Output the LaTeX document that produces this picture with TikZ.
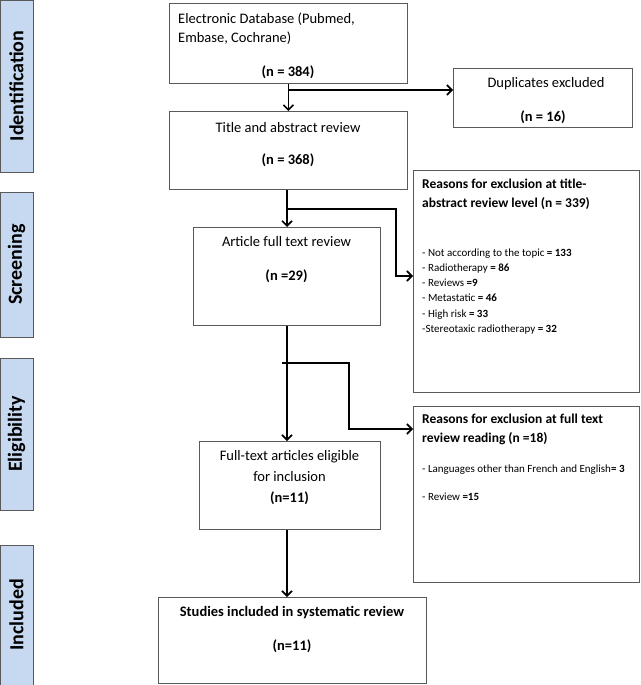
\documentclass[tikz,border=0pt]{standalone}
\usepackage{fontspec}
\setmainfont{Carlito}
\usetikzlibrary{arrows.meta,positioning}
\definecolor{stagefill}{RGB}{198,217,241}
\definecolor{boxline}{RGB}{89,89,89}

\begin{document}
\begin{tikzpicture}[x=1pt, y=-1pt,
  box/.style = {draw=boxline, line width=0.9pt, inner sep=0, anchor=north west},
  stage/.style = {draw=boxline, fill=stagefill, line width=0.9pt, rotate=90,
    inner sep=0, minimum height=33pt, font=\fontsize{20}{24}\selectfont\bfseries},
  txt/.style = {inner sep=0, font=\fontsize{14.5}{19.5}\selectfont},
  head/.style = {inner sep=0, anchor=north west, align=left,
    font=\fontsize{13.5}{19.5}\selectfont\bfseries},
  list/.style = {inner sep=0, anchor=north west, align=left,
    font=\fontsize{11}{15.2}\selectfont},
  flow/.style = {line width=1.6pt, -{Straight Barb[length=5pt,width=10pt]}},
]
\useasboundingbox (0,0) rectangle (640,685);

% stages
\node[stage, minimum width=172pt] (ident) at (16.5,86) {Identification};
\node[stage, minimum width=145pt] (screen) at (16.5,264.5) {Screening};
\node[stage, minimum width=152pt] (elig) at (16.5,434) {Eligibility};
\node[stage, minimum width=140pt] (incl) at (16.5,615) {Included};

% boxes
\node[box, minimum width=238pt, minimum height=80pt] (db) at (169,3) {};
\node[box, minimum width=179pt, minimum height=59pt] (dup) at (453,68) {};
\node[box, minimum width=238pt, minimum height=78pt] (title) at (169,111) {};
\node[box, minimum width=226pt, minimum height=222pt] (reason1) at (413,170) {};
\node[box, minimum width=187pt, minimum height=98pt] (art) at (193,227) {};
\node[box, minimum width=226pt, minimum height=176pt] (reason2) at (413,406) {};
\node[box, minimum width=181pt, minimum height=88pt] (full) at (199,441) {};
\node[box, minimum width=268pt, minimum height=86pt] (stud) at (158,597) {};

% texts
\node[txt, anchor=north west, align=left] (dbtxt) at (178,12.4)
  {Electronic Database (Pubmed,\\Embase, Cochrane)};
\node[txt, anchor=north] (dbn) at (288,65.4) {\textbf{(n = 384)}};
\node[txt, anchor=north] (duptxt) at (546,77.4) {Duplicates excluded};
\node[txt, anchor=north] (dupn) at (543,110.4) {\textbf{(n = 16)}};
\node[txt, anchor=north] (titletxt) at (288,122.4) {Title and abstract review};
\node[txt, anchor=north] (titlen) at (288,153.4) {\textbf{(n = 368)}};
\node[head] (r1head) at (422,178.6)
  {Reasons for exclusion at title-\\abstract review level (n = 339)};
\node[list] (r1list) at (422,248.5)
  {- Not according to the topic \textbf{= 133}\\
   - Radiotherapy \textbf{= 86}\\
   - Reviews \textbf{=9}\\
   - Metastatic \textbf{= 46}\\
   - High risk \textbf{= 33}\\
   -Stereotaxic radiotherapy \textbf{= 32}};
\node[txt, anchor=north] (arttxt) at (286.5,236.4) {Article full text review};
\node[txt, anchor=north] (artn) at (286.5,269.4) {\textbf{(n =29)}};
\node[head] (r2head) at (422,413.8)
  {Reasons for exclusion at full text\\review reading (n =18)};
\node[list] (r2list) at (422,464.5)
  {- Languages other than French and English\textbf{= 3}\\[12.8pt]
   - Review \textbf{=15}};
\node[txt, anchor=north, align=center, font=\fontsize{14.5}{21}\selectfont]
  (fulltxt) at (289.5,450.4)
  {Full-text articles eligible\\for inclusion\\\textbf{(n=11)}};
\node[txt, anchor=north] (studtxt) at (292,606.4)
  {\textbf{Studies included in systematic review}};
\node[txt, anchor=north] (studn) at (292,639.4) {\textbf{(n=11)}};

% connectors
\coordinate (b1) at (289,90);
\coordinate (b2) at (287,209);
\coordinate (k2) at (396,276);
\coordinate (b3) at (282,363);
\coordinate (k3) at (349,429);
\draw[flow] (db.south) -- (db.south |- title.north);
\draw[flow] (b1) -- (b1 -| dup.west);
\draw[flow] (b2 |- title.south) -- (b2 |- art.north);
\draw[flow] (b2) -| (k2) -- (k2 -| reason1.west);
\draw[flow] (b2 |- art.south) -- (b2 |- full.north);
\draw[flow] (b3) -| (k3) -- (k3 -| reason2.west);
\draw[flow] (b2 |- full.south) -- (b2 |- stud.north);
\end{tikzpicture}
\end{document}
